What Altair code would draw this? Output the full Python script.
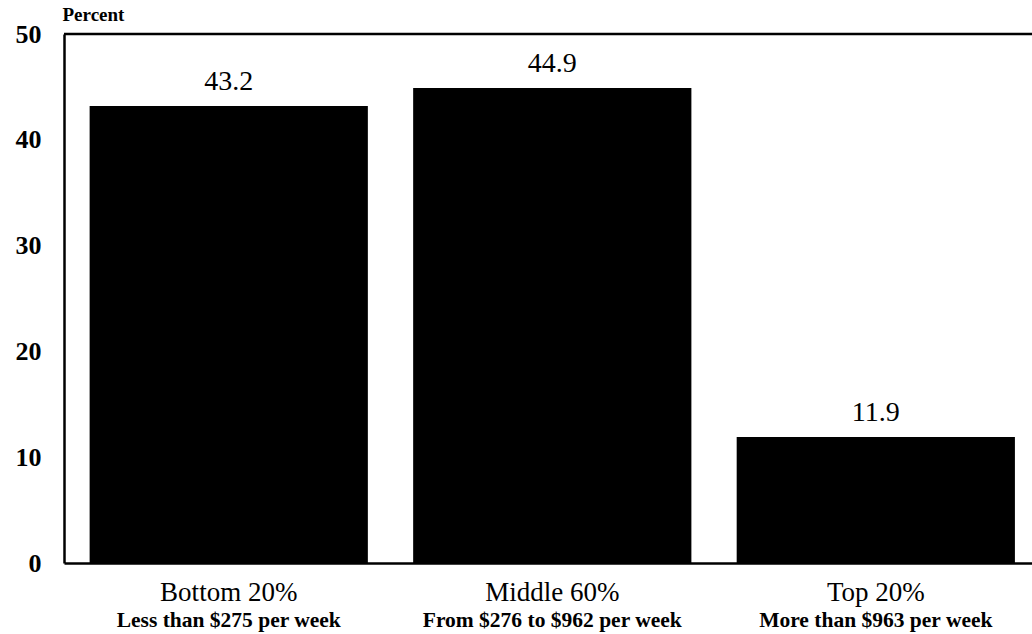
import altair as alt
import pandas as pd

# Share of workers by weekly-earnings group
groups = ["Bottom 20%", "Middle 60%", "Top 20%"]
ranges = ["Less than $275 per week", "From $276 to $962 per week", "More than $963 per week"]
percent = [43.2, 44.9, 11.9]

df = pd.DataFrame({"group": groups, "range": ranges, "percent": percent})
df["label"] = df["percent"].map(lambda v: f"{v:.1f}")

W, H = 968, 529
SERIF = "Liberation Serif"

x = alt.X(
    "group:N",
    sort=groups,
    scale=alt.Scale(paddingInner=0.14, paddingOuter=0.066, align=0.6),
    axis=alt.Axis(
        title=None,
        labelAngle=0,
        ticks=False,
        labelFont=SERIF,
        labelFontSize=27,
        labelColor="black",
        labelPadding=37,
        labelBaseline="alphabetic",
        domainColor="black",
        domainWidth=2.5,
    ),
)

y = alt.Y(
    "percent:Q",
    scale=alt.Scale(domain=[0, 50], nice=False),
    axis=alt.Axis(
        values=[0, 10, 20, 30, 40, 50],
        grid=False,
        ticks=False,
        labelFont=SERIF,
        labelFontSize=26,
        labelFontWeight="bold",
        labelColor="black",
        labelPadding=23,
        domainColor="black",
        domainWidth=2.5,
        title="Percent",
        titleFont=SERIF,
        titleFontSize=19,
        titleFontWeight="bold",
        titleColor="black",
        titleAngle=0,
        titleAlign="left",
        titleBaseline="alphabetic",
        titleX=-2,
        titleY=-14,
    ),
)

base = alt.Chart(df)

bars = base.mark_bar(color="black").encode(x=x, y=y)

values = base.mark_text(
    font=SERIF, fontSize=28, color="black", baseline="alphabetic", dy=-16
).encode(x=alt.X("group:N", sort=groups), y="percent:Q", text="label:N")

subtitles = base.mark_text(
    font=SERIF, fontSize=21.5, fontWeight="bold", color="black", baseline="alphabetic"
).encode(x=alt.X("group:N", sort=groups), y=alt.value(H + 64), text="range:N")

top_line = alt.Chart(pd.DataFrame({"v": [50]})).mark_rule(
    color="black", strokeWidth=2.5
).encode(y="v:Q")

chart = (
    alt.layer(bars, values, subtitles, top_line)
    .properties(
        width=W,
        height=H,
        autosize=alt.AutoSizeParams(type="none"),
        padding={"left": 64, "top": 34, "right": 0, "bottom": 71},
        background="white",
    )
    .configure_view(stroke=None)
)

chart.save("out.html", embed_options={"renderer": "svg", "actions": False})
